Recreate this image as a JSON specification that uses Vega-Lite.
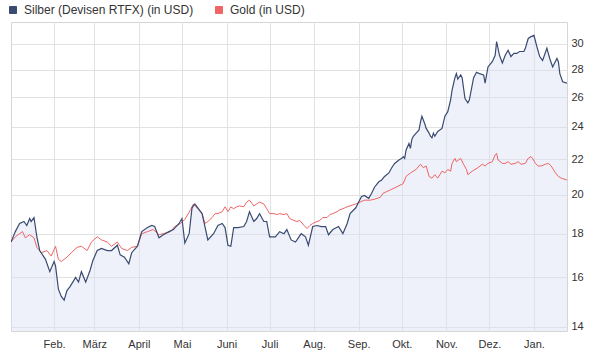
{
  "$schema": "https://vega.github.io/schema/vega-lite/v6.json",
  "width": 556,
  "height": 309,
  "autosize": "none",
  "padding": {"left": 11, "top": 22, "right": 25, "bottom": 23},
  "background": "white",
  "config": {
    "view": {"stroke": "#d6d6d6"},
    "font": "Liberation Sans",
    "axis": {"labelFont": "Liberation Sans", "labelColor": "#333333", "labelFontSize": 11, "gridColor": "#e2e2e2", "gridWidth": 1},
    "legend": {"labelFont": "Liberation Sans", "labelColor": "#333333"}
  },
  "datasets": {
    "silber": [
      {"date":"2010-01-02","value":17.6},{"date":"2010-01-05","value":18.1},{"date":"2010-01-08","value":18.5},{"date":"2010-01-11","value":18.6},{"date":"2010-01-13","value":18.4},{"date":"2010-01-15","value":18.75},{"date":"2010-01-16","value":18.6},{"date":"2010-01-18","value":18.8},{"date":"2010-01-20","value":17.85},{"date":"2010-01-22","value":17.2},{"date":"2010-01-26","value":16.8},{"date":"2010-01-29","value":16.25},
      {"date":"2010-02-01","value":16.7},{"date":"2010-02-02","value":16.5},{"date":"2010-02-04","value":15.5},{"date":"2010-02-06","value":15.2},{"date":"2010-02-08","value":15.05},{"date":"2010-02-10","value":15.45},{"date":"2010-02-12","value":15.6},{"date":"2010-02-14","value":15.8},{"date":"2010-02-16","value":16.0},{"date":"2010-02-18","value":15.8},{"date":"2010-02-20","value":16.25},{"date":"2010-02-23","value":15.8},{"date":"2010-02-26","value":16.3},{"date":"2010-02-28","value":16.75},
      {"date":"2010-03-03","value":17.2},{"date":"2010-03-06","value":17.3},{"date":"2010-03-10","value":17.2},{"date":"2010-03-13","value":17.2},{"date":"2010-03-17","value":17.45},{"date":"2010-03-19","value":17.0},{"date":"2010-03-22","value":16.9},{"date":"2010-03-25","value":16.6},{"date":"2010-03-27","value":17.1},{"date":"2010-03-31","value":17.4},
      {"date":"2010-04-03","value":18.1},{"date":"2010-04-07","value":18.3},{"date":"2010-04-10","value":18.4},{"date":"2010-04-12","value":18.35},{"date":"2010-04-15","value":17.8},{"date":"2010-04-18","value":17.95},{"date":"2010-04-22","value":18.1},{"date":"2010-04-25","value":18.2},{"date":"2010-04-29","value":18.5},
      {"date":"2010-05-01","value":18.75},{"date":"2010-05-03","value":17.55},{"date":"2010-05-06","value":18.0},{"date":"2010-05-08","value":19.3},{"date":"2010-05-10","value":19.5},{"date":"2010-05-12","value":19.3},{"date":"2010-05-15","value":19.0},{"date":"2010-05-17","value":18.35},{"date":"2010-05-19","value":17.7},{"date":"2010-05-23","value":18.0},{"date":"2010-05-26","value":18.4},{"date":"2010-05-29","value":18.5},{"date":"2010-05-31","value":18.3},
      {"date":"2010-06-02","value":17.45},{"date":"2010-06-04","value":17.4},{"date":"2010-06-06","value":18.3},{"date":"2010-06-09","value":18.3},{"date":"2010-06-13","value":18.35},{"date":"2010-06-15","value":18.6},{"date":"2010-06-17","value":19.1},{"date":"2010-06-20","value":18.6},{"date":"2010-06-22","value":18.75},{"date":"2010-06-24","value":19.0},{"date":"2010-06-27","value":18.6},{"date":"2010-06-29","value":18.6},
      {"date":"2010-07-01","value":17.85},{"date":"2010-07-05","value":17.85},{"date":"2010-07-08","value":18.1},{"date":"2010-07-11","value":18.0},{"date":"2010-07-13","value":18.2},{"date":"2010-07-16","value":17.7},{"date":"2010-07-19","value":17.6},{"date":"2010-07-21","value":17.8},{"date":"2010-07-23","value":18.0},{"date":"2010-07-26","value":17.85},{"date":"2010-07-28","value":17.45},{"date":"2010-07-31","value":18.35},
      {"date":"2010-08-03","value":18.4},{"date":"2010-08-06","value":18.35},{"date":"2010-08-09","value":18.35},{"date":"2010-08-11","value":17.95},{"date":"2010-08-14","value":18.2},{"date":"2010-08-18","value":18.35},{"date":"2010-08-21","value":18.0},{"date":"2010-08-24","value":18.5},{"date":"2010-08-26","value":19.0},{"date":"2010-08-30","value":19.3},
      {"date":"2010-09-01","value":19.6},{"date":"2010-09-03","value":19.9},{"date":"2010-09-05","value":19.95},{"date":"2010-09-08","value":19.8},{"date":"2010-09-10","value":20.07},{"date":"2010-09-12","value":20.4},{"date":"2010-09-15","value":20.7},{"date":"2010-09-17","value":20.8},{"date":"2010-09-19","value":21.0},{"date":"2010-09-22","value":21.2},{"date":"2010-09-24","value":21.5},{"date":"2010-09-26","value":21.75},{"date":"2010-09-29","value":21.95},
      {"date":"2010-10-01","value":22.05},{"date":"2010-10-02","value":22.15},{"date":"2010-10-03","value":22.05},{"date":"2010-10-04","value":22.55},{"date":"2010-10-06","value":22.95},{"date":"2010-10-07","value":22.65},{"date":"2010-10-08","value":23.2},{"date":"2010-10-09","value":23.4},{"date":"2010-10-11","value":23.6},{"date":"2010-10-13","value":23.8},{"date":"2010-10-14","value":24.3},{"date":"2010-10-15","value":24.7},{"date":"2010-10-16","value":24.45},{"date":"2010-10-17","value":24.2},{"date":"2010-10-18","value":23.9},{"date":"2010-10-20","value":23.6},{"date":"2010-10-21","value":23.4},{"date":"2010-10-22","value":23.3},{"date":"2010-10-23","value":23.6},{"date":"2010-10-24","value":23.4},{"date":"2010-10-26","value":23.7},{"date":"2010-10-29","value":23.9},{"date":"2010-10-31","value":24.7},
      {"date":"2010-11-02","value":25.0},{"date":"2010-11-04","value":25.8},{"date":"2010-11-05","value":26.5},{"date":"2010-11-07","value":27.4},{"date":"2010-11-08","value":27.7},{"date":"2010-11-09","value":27.3},{"date":"2010-11-11","value":27.6},{"date":"2010-11-12","value":27.4},{"date":"2010-11-14","value":25.9},{"date":"2010-11-16","value":25.6},{"date":"2010-11-17","value":25.8},{"date":"2010-11-20","value":27.4},{"date":"2010-11-22","value":27.8},{"date":"2010-11-24","value":27.7},{"date":"2010-11-27","value":27.6},{"date":"2010-11-28","value":27.0},{"date":"2010-11-30","value":28.2},
      {"date":"2010-12-03","value":28.6},{"date":"2010-12-05","value":29.1},{"date":"2010-12-06","value":30.2},{"date":"2010-12-08","value":29.1},{"date":"2010-12-10","value":28.5},{"date":"2010-12-12","value":29.1},{"date":"2010-12-14","value":29.5},{"date":"2010-12-16","value":29.0},{"date":"2010-12-18","value":29.25},{"date":"2010-12-20","value":29.25},{"date":"2010-12-22","value":29.4},{"date":"2010-12-25","value":29.4},{"date":"2010-12-26","value":29.65},{"date":"2010-12-28","value":30.45},{"date":"2010-12-30","value":30.6},
      {"date":"2011-01-01","value":30.7},{"date":"2011-01-03","value":29.8},{"date":"2011-01-05","value":29.0},{"date":"2011-01-07","value":28.7},{"date":"2011-01-10","value":29.65},{"date":"2011-01-12","value":28.85},{"date":"2011-01-14","value":28.2},{"date":"2011-01-17","value":28.85},{"date":"2011-01-18","value":28.6},{"date":"2011-01-19","value":27.7},{"date":"2011-01-21","value":27.1},{"date":"2011-01-24","value":27.0}
    ],
    "gold": [
      {"date":"2010-01-02","value":17.6},{"date":"2010-01-05","value":17.85},{"date":"2010-01-07","value":17.95},{"date":"2010-01-10","value":18.1},{"date":"2010-01-12","value":17.8},{"date":"2010-01-15","value":17.95},{"date":"2010-01-18","value":17.8},{"date":"2010-01-20","value":17.35},{"date":"2010-01-23","value":17.1},{"date":"2010-01-27","value":17.2},{"date":"2010-01-30","value":16.95},
      {"date":"2010-02-02","value":17.4},{"date":"2010-02-04","value":16.8},{"date":"2010-02-06","value":16.7},{"date":"2010-02-10","value":16.9},{"date":"2010-02-13","value":17.1},{"date":"2010-02-17","value":17.35},{"date":"2010-02-20","value":17.4},{"date":"2010-02-24","value":17.2},{"date":"2010-02-27","value":17.6},
      {"date":"2010-03-03","value":17.85},{"date":"2010-03-06","value":17.7},{"date":"2010-03-10","value":17.6},{"date":"2010-03-13","value":17.4},{"date":"2010-03-17","value":17.6},{"date":"2010-03-20","value":17.3},{"date":"2010-03-24","value":17.2},{"date":"2010-03-27","value":17.35},{"date":"2010-03-31","value":17.4},
      {"date":"2010-04-03","value":18.0},{"date":"2010-04-07","value":18.1},{"date":"2010-04-11","value":18.2},{"date":"2010-04-15","value":17.95},{"date":"2010-04-18","value":18.0},{"date":"2010-04-23","value":18.1},{"date":"2010-04-26","value":18.35},{"date":"2010-04-30","value":18.5},
      {"date":"2010-05-03","value":18.7},{"date":"2010-05-07","value":19.2},{"date":"2010-05-09","value":19.5},{"date":"2010-05-12","value":19.25},{"date":"2010-05-15","value":19.0},{"date":"2010-05-17","value":18.5},{"date":"2010-05-19","value":18.6},{"date":"2010-05-22","value":18.8},{"date":"2010-05-24","value":19.0},{"date":"2010-05-26","value":19.0},{"date":"2010-05-29","value":19.1},{"date":"2010-05-31","value":19.35},
      {"date":"2010-06-02","value":19.1},{"date":"2010-06-04","value":19.35},{"date":"2010-06-06","value":19.25},{"date":"2010-06-08","value":19.35},{"date":"2010-06-10","value":19.4},{"date":"2010-06-13","value":19.35},{"date":"2010-06-15","value":19.6},{"date":"2010-06-17","value":19.7},{"date":"2010-06-20","value":19.4},{"date":"2010-06-22","value":19.5},{"date":"2010-06-24","value":19.6},{"date":"2010-06-27","value":19.5},{"date":"2010-06-29","value":19.25},
      {"date":"2010-07-01","value":19.0},{"date":"2010-07-04","value":19.0},{"date":"2010-07-06","value":18.95},{"date":"2010-07-08","value":19.0},{"date":"2010-07-11","value":18.95},{"date":"2010-07-13","value":19.0},{"date":"2010-07-15","value":18.75},{"date":"2010-07-18","value":18.65},{"date":"2010-07-20","value":18.6},{"date":"2010-07-22","value":18.65},{"date":"2010-07-25","value":18.4},{"date":"2010-07-27","value":18.25},{"date":"2010-07-29","value":18.4},{"date":"2010-07-31","value":18.5},
      {"date":"2010-08-03","value":18.6},{"date":"2010-08-05","value":18.65},{"date":"2010-08-07","value":18.8},{"date":"2010-08-10","value":18.8},{"date":"2010-08-12","value":18.95},{"date":"2010-08-14","value":19.0},{"date":"2010-08-17","value":19.1},{"date":"2010-08-19","value":19.2},{"date":"2010-08-21","value":19.25},{"date":"2010-08-24","value":19.35},{"date":"2010-08-26","value":19.4},{"date":"2010-08-30","value":19.5},
      {"date":"2010-09-02","value":19.6},{"date":"2010-09-05","value":19.7},{"date":"2010-09-09","value":19.7},{"date":"2010-09-12","value":19.75},{"date":"2010-09-16","value":19.85},{"date":"2010-09-18","value":20.07},{"date":"2010-09-23","value":20.25},{"date":"2010-09-27","value":20.4},
      {"date":"2010-10-02","value":20.6},{"date":"2010-10-04","value":21.0},{"date":"2010-10-07","value":21.2},{"date":"2010-10-09","value":21.3},{"date":"2010-10-11","value":21.4},{"date":"2010-10-14","value":21.7},{"date":"2010-10-16","value":21.5},{"date":"2010-10-18","value":21.6},{"date":"2010-10-20","value":21.0},{"date":"2010-10-22","value":20.9},{"date":"2010-10-24","value":21.1},{"date":"2010-10-26","value":20.9},{"date":"2010-10-29","value":21.3},{"date":"2010-10-31","value":21.2},
      {"date":"2010-11-02","value":21.4},{"date":"2010-11-04","value":21.3},{"date":"2010-11-05","value":21.75},{"date":"2010-11-07","value":22.05},{"date":"2010-11-08","value":21.85},{"date":"2010-11-11","value":22.05},{"date":"2010-11-13","value":21.7},{"date":"2010-11-15","value":21.4},{"date":"2010-11-16","value":21.1},{"date":"2010-11-19","value":21.3},{"date":"2010-11-21","value":21.4},{"date":"2010-11-23","value":21.5},{"date":"2010-11-26","value":21.7},{"date":"2010-11-28","value":21.6},{"date":"2010-11-30","value":21.75},
      {"date":"2010-12-03","value":21.85},{"date":"2010-12-05","value":22.25},{"date":"2010-12-06","value":22.35},{"date":"2010-12-07","value":21.95},{"date":"2010-12-10","value":21.75},{"date":"2010-12-12","value":21.75},{"date":"2010-12-14","value":21.85},{"date":"2010-12-16","value":21.7},{"date":"2010-12-19","value":21.75},{"date":"2010-12-21","value":21.85},{"date":"2010-12-23","value":21.7},{"date":"2010-12-26","value":21.75},{"date":"2010-12-28","value":22.05},{"date":"2010-12-30","value":22.15},{"date":"2010-12-31","value":22.05},
      {"date":"2011-01-02","value":21.75},{"date":"2011-01-04","value":21.6},{"date":"2011-01-06","value":21.6},{"date":"2011-01-09","value":21.7},{"date":"2011-01-11","value":21.75},{"date":"2011-01-13","value":21.6},{"date":"2011-01-16","value":21.2},{"date":"2011-01-18","value":21.0},{"date":"2011-01-20","value":20.9},{"date":"2011-01-24","value":20.8}
    ]
  },
  "encoding": {
    "x": {
      "field": "date",
      "type": "temporal",
      "scale": {"type": "utc", "nice": false, "domain": [{"year": 2010, "month": 1, "date": 2, "utc": true}, {"year": 2011, "month": 1, "date": 24, "utc": true}]},
      "axis": {
        "orient": "bottom",
        "title": null,
        "tickCount": {"interval": "month", "step": 1},
        "labelExpr": "['Jan.','Feb.','März','April','Mai','Juni','Juli','Aug.','Sep.','Okt.','Nov.','Dez.'][utcmonth(datum.value)]",
        "ticks": false,
        "domain": false,
        "grid": true,
        "labelPadding": 7,
        "labelOverlap": false,
        "labelFlush": false
      }
    },
    "y": {
      "field": "value",
      "type": "quantitative",
      "scale": {"type": "log", "domain": [13.85, 31.83], "nice": false, "zero": false},
      "axis": {
        "orient": "right",
        "title": null,
        "values": [14, 16, 18, 20, 22, 24, 26, 28, 30],
        "format": "d",
        "ticks": false,
        "domain": false,
        "grid": true,
        "labelPadding": 4
      }
    }
  },
  "layer": [
    {
      "data": {"name": "silber"},
      "mark": {"type": "area", "color": "#d9dff2", "opacity": 0.45, "clip": true},
      "encoding": {"y2": {"datum": 13.85}}
    },
    {
      "data": {"name": "gold"},
      "mark": {"type": "line", "strokeWidth": 1, "clip": true},
      "encoding": {"color": {"datum": "Gold (in USD)"}}
    },
    {
      "data": {"name": "silber"},
      "mark": {"type": "line", "strokeWidth": 1.2, "clip": true},
      "encoding": {
        "color": {
          "datum": "Silber (Devisen RTFX) (in USD)",
          "scale": {"domain": ["Silber (Devisen RTFX) (in USD)", "Gold (in USD)"], "range": ["#3a4b72", "#ef6464"]},
          "legend": {
            "title": null,
            "orient": "none",
            "legendX": -4,
            "legendY": -18,
            "direction": "horizontal",
            "symbolType": "square",
            "symbolSize": 49,
            "symbolStrokeWidth": 1,
            "labelFontSize": 12,
            "labelLimit": 400,
            "labelOffset": 5,
            "columnPadding": 19,
            "padding": 0,
            "encode": {"symbols": {"update": {"fill": {"scale": "color", "field": "value"}, "stroke": {"value": "#444444"}, "strokeWidth": {"value": 1}, "opacity": {"value": 1}}}}
          }
        }
      }
    }
  ]
}
